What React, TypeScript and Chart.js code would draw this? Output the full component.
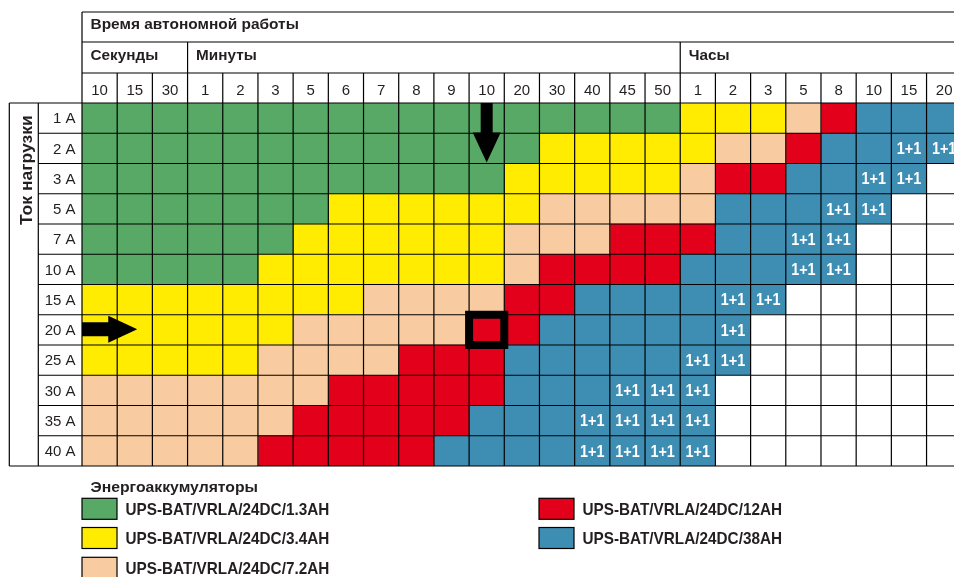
import React, { useEffect, useRef } from 'react';
import { Chart, registerables } from 'chart.js';

Chart.register(...registerables);

// ---------- data ----------
const tableTitle = 'Время автономной работы';
const unitGroups = ['Секунды', 'Минуты', 'Часы'];
const unitSpans = [3, 14, 8];
const timeLabels = ['10', '15', '30', '1', '2', '3', '5', '6', '7', '8', '9', '10', '20', '30', '40', '45', '50', '1', '2', '3', '5', '8', '10', '15', '20'];
const axisTitle = 'Ток нагрузки';
const currentLabels = ['1 A', '2 A', '3 A', '5 A', '7 A', '10 A', '15 A', '20 A', '25 A', '30 A', '35 A', '40 A'];
// G=1.3AH, Y=3.4AH, P=7.2AH, R=12AH, B=38AH, b=38AH "1+1", W=none
const batteryCodes = [
  'GGGGGGGGGGGGGGGGGYYYPRBBB',
  'GGGGGGGGGGGGGYYYYYPPRBBbb',
  'GGGGGGGGGGGGYYYYYPRRBBbbW',
  'GGGGGGGYYYYYYPPPPPBBBbbWW',
  'GGGGGGYYYYYYPPPRRRBBbbWWW',
  'GGGGGYYYYYYYPRRRRBBBbbWWW',
  'YYYYYYYYPPPPRRBBBBbbWWWWW',
  'YYYYYYPPPPPRRBBBBBbWWWWWW',
  'YYYYYPPPPRRRBBBBBbbWWWWWW',
  'PPPPPPPRRRRRBBBbbbWWWWWWW',
  'PPPPPPRRRRRBBBbbbbWWWWWWW',
  'PPPPPRRRRRBBBBbbbbWWWWWWW',
];
const doubleLabel = '1+1';
const legendTitle = 'Энергоаккумуляторы';
const batteryKeys = ['G', 'Y', 'P', 'R', 'B'];
const batteryNames = [
  'UPS-BAT/VRLA/24DC/1.3AH',
  'UPS-BAT/VRLA/24DC/3.4AH',
  'UPS-BAT/VRLA/24DC/7.2AH',
  'UPS-BAT/VRLA/24DC/12AH',
  'UPS-BAT/VRLA/24DC/38AH',
];
const batteryColors = ['#58a965', '#ffec00', '#f9cba1', '#e3001b', '#3e8db3'];
const arrowDownColumn = 11;
const arrowDownRows = [0, 2];
const arrowRightRow = 7;
const arrowRightCols = [0, 1.57];
const highlightCell = [7, 11];

// ---------- helpers ----------
const FONT = '"Liberation Sans", Arial, Helvetica, sans-serif';
const INK = '#231f20';

function cellColor(code: string): string {
  const i = batteryKeys.indexOf(code.toUpperCase());
  return i >= 0 ? batteryColors[i] : '#ffffff';
}

function textAt(ctx: CanvasRenderingContext2D, text: string, x: number, y: number, font: string, align: CanvasTextAlign, sx = 1, color = INK) {
  ctx.save();
  ctx.translate(x, y);
  ctx.scale(sx, 1);
  ctx.font = font;
  ctx.fillStyle = color;
  ctx.textAlign = align;
  ctx.textBaseline = 'alphabetic';
  ctx.fillText(text, 0, 0);
  ctx.restore();
}

function line(ctx: CanvasRenderingContext2D, x1: number, y1: number, x2: number, y2: number) {
  ctx.beginPath();
  ctx.moveTo(x1, y1);
  ctx.lineTo(x2, y2);
  ctx.stroke();
}

const tablePlugin = {
  id: 'batteryTable',
  afterDatasetsDraw(chart: any) {
    const { ctx, chartArea: a, scales } = chart;
    const xs = scales.x;
    const ys = scales.y;
    const W = chart.width;
    const nR = currentLabels.length;
    const rowH = (a.bottom - a.top) / nR;
    const colX = (c: number) => xs.getPixelForValue(c);
    const rowTop = (r: number) => ys.getPixelForValue(r) - rowH / 2;
    const h0 = a.top - 91;
    const h1 = a.top - 61;
    const h2 = a.top - 30;
    const boxL = 9.3;
    const labL = 38.3;

    ctx.save();
    // "1+1" labels
    batteryCodes.forEach((row, r) => {
      for (let c = 0; c < row.length; c++) {
        if (row[c] === 'b') {
          const cx = (colX(c) + colX(c + 1)) / 2;
          const cy = ys.getPixelForValue(r);
          textAt(ctx, doubleLabel, cx, cy + 5.8, `bold 16px ${FONT}`, 'center', 0.9, '#ffffff');
        }
      }
    });

    // grid lines
    ctx.strokeStyle = '#000';
    ctx.lineWidth = 1.2;
    [h0, h1, h2].forEach((yy) => line(ctx, a.left, yy, W, yy));
    for (let r = 0; r <= nR; r++) {
      const yy = a.top + r * rowH;
      line(ctx, r === 0 || r === nR ? boxL : labL, yy, W, yy);
    }
    line(ctx, a.left, h0, a.left, a.bottom);
    line(ctx, boxL, a.top, boxL, a.bottom);
    line(ctx, labL, a.top, labL, a.bottom);
    let acc = 0;
    unitSpans.forEach((s, i) => {
      if (i > 0) line(ctx, colX(acc), h1, colX(acc), h2);
      acc += s;
    });
    for (let c = 1; c <= timeLabels.length; c++) line(ctx, colX(c), h2, colX(c), a.bottom);

    // header texts
    textAt(ctx, tableTitle, a.left + 8.5, h0 + 17.2, `bold 15px ${FONT}`, 'left', 1.03);
    acc = 0;
    unitSpans.forEach((s, i) => {
      textAt(ctx, unitGroups[i], colX(acc) + 8.5, h1 + 17.7, `bold 15px ${FONT}`, 'left', 1.02);
      acc += s;
    });
    timeLabels.forEach((t, c) => {
      textAt(ctx, t, (colX(c) + colX(c + 1)) / 2, h2 + 22.4, `15px ${FONT}`, 'center');
    });
    currentLabels.forEach((t, r) => {
      textAt(ctx, t, a.left - 6.5, ys.getPixelForValue(r) + 5.3, `15px ${FONT}`, 'right');
    });
    // rotated axis title
    ctx.save();
    ctx.translate(31.5, 225);
    ctx.rotate(-Math.PI / 2);
    ctx.scale(1.03, 1);
    ctx.font = `bold 17px ${FONT}`;
    ctx.fillStyle = INK;
    ctx.textAlign = 'left';
    ctx.textBaseline = 'alphabetic';
    ctx.fillText(axisTitle, 0, 0);
    ctx.restore();

    // highlight box
    ctx.strokeStyle = '#000';
    ctx.lineWidth = 8;
    const [hr, hc] = highlightCell;
    ctx.strokeRect(colX(hc), rowTop(hr), colX(hc + 1) - colX(hc), rowH);

    // arrows
    ctx.fillStyle = '#000';
    const dx = (colX(arrowDownColumn) + colX(arrowDownColumn + 1)) / 2;
    const dTop = rowTop(arrowDownRows[0]);
    const dTip = rowTop(arrowDownRows[1]) - 1;
    ctx.beginPath();
    ctx.moveTo(dx - 6, dTop);
    ctx.lineTo(dx + 6, dTop);
    ctx.lineTo(dx + 6, dTip - 30);
    ctx.lineTo(dx + 14, dTip - 30);
    ctx.lineTo(dx, dTip);
    ctx.lineTo(dx - 14, dTip - 30);
    ctx.lineTo(dx - 6, dTip - 30);
    ctx.closePath();
    ctx.fill();
    const ry = ys.getPixelForValue(arrowRightRow) - 0.7;
    const rx0 = colX(arrowRightCols[0]);
    const rTip = colX(arrowRightCols[1]);
    ctx.beginPath();
    ctx.moveTo(rx0, ry - 7);
    ctx.lineTo(rTip - 29, ry - 7);
    ctx.lineTo(rTip - 29, ry - 13.5);
    ctx.lineTo(rTip, ry);
    ctx.lineTo(rTip - 29, ry + 13.5);
    ctx.lineTo(rTip - 29, ry + 7);
    ctx.lineTo(rx0, ry + 7);
    ctx.closePath();
    ctx.fill();

    // legend
    textAt(ctx, legendTitle, a.left + 8.5, a.bottom + 25.5, `bold 15px ${FONT}`, 'left', 1.05);
    const legX = [a.left, 539];
    const legY = [a.bottom + 32.3, a.bottom + 61.5, a.bottom + 91.3];
    batteryNames.forEach((name, i) => {
      const col = i < 3 ? 0 : 1;
      const row = i < 3 ? i : i - 3;
      const lx = legX[col];
      const ly = legY[row];
      ctx.fillStyle = batteryColors[i];
      ctx.fillRect(lx, ly, 35, 21);
      ctx.strokeStyle = '#000';
      ctx.lineWidth = 1.2;
      ctx.strokeRect(lx, ly, 35, 21);
      textAt(ctx, name, lx + 43.5, ly + 16.5, `bold 17px ${FONT}`, 'left', 0.9);
    });
    ctx.restore();
  },
};

export default function App() {
  const ref = useRef<HTMLCanvasElement | null>(null);
  useEffect(() => {
    if (!ref.current) return;
    const datasets = timeLabels.map((lab, c) => ({
      label: lab,
      data: currentLabels.map(() => [c, c + 1]),
      backgroundColor: currentLabels.map((_, r) => cellColor(batteryCodes[r][c])),
      borderWidth: 0,
      grouped: false,
      barPercentage: 1,
      categoryPercentage: 1,
    }));
    const chart = new Chart(ref.current, {
      type: 'bar',
      data: { labels: currentLabels, datasets: datasets as any },
      options: {
        indexAxis: 'y',
        responsive: false,
        animation: false,
        layout: { padding: { left: 82, top: 103, right: 0, bottom: 111 } },
        plugins: { legend: { display: false }, tooltip: { enabled: false } },
        scales: {
          y: { type: 'category', display: false, offset: true },
          x: { type: 'linear', display: false, min: 0, max: 24.78 },
        },
      },
      plugins: [tablePlugin],
    } as any);
    return () => chart.destroy();
  }, []);
  return (
    <div style={{ position: 'absolute', left: 0, top: 0, width: 954, height: 577, background: '#fff' }}>
      <canvas ref={ref} width={954} height={577} style={{ width: 954, height: 577, display: 'block' }} />
    </div>
  );
}
